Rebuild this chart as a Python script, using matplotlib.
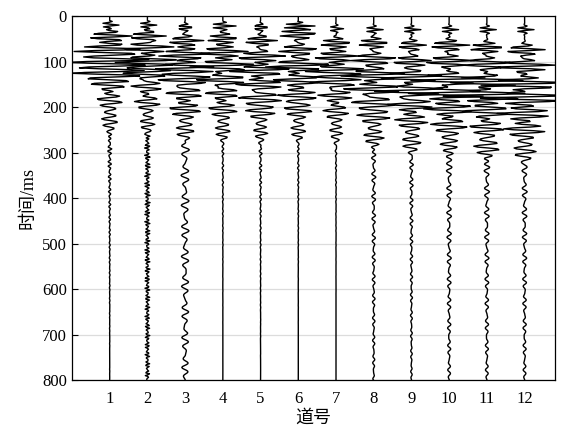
import numpy as np
import matplotlib.pyplot as plt

plt.rcParams['font.family'] = ['Liberation Serif', 'Noto Sans CJK SC']

# trace numbers
traces = np.arange(1, 13)

# wave packets per trace: arrival time (ms), amplitude (trace units)
ev_time = [
    [20, 45, 75, 100, 125, 150, 185, 230],
    [20, 45, 70, 100, 125, 155, 190, 235],
    [25, 55, 85, 115, 140, 170, 205, 250],
    [22, 50, 80, 110, 140, 170, 205, 250],
    [25, 55, 90, 120, 150, 180, 210, 255],
    [22, 40, 75, 110, 140, 175, 205, 250],
    [28, 60, 90, 120, 145, 175, 210, 255],
    [30, 60, 95, 130, 160, 190, 220, 265],
    [30, 65, 100, 135, 165, 195, 230, 275],
    [30, 65, 100, 140, 170, 205, 240, 285],
    [30, 70, 105, 145, 175, 210, 245, 290],
    [30, 75, 110, 150, 180, 215, 250, 295],
]
ev_amp = [
    [0.25, 0.60, 0.95, 1.15, 0.95, 0.50, 0.35, 0.22],
    [0.25, 0.50, 0.75, 0.85, 0.65, 0.45, 0.35, 0.20],
    [0.25, 0.50, 0.75, 0.85, 0.75, 0.55, 0.45, 0.25],
    [0.35, 0.45, 0.70, 0.90, 0.75, 0.50, 0.40, 0.20],
    [0.25, 0.45, 0.70, 0.85, 0.70, 0.60, 0.40, 0.20],
    [0.45, 0.55, 0.55, 0.90, 0.70, 0.55, 0.40, 0.20],
    [0.20, 0.45, 0.65, 0.80, 0.70, 0.50, 0.35, 0.18],
    [0.25, 0.45, 0.65, 0.90, 0.85, 0.60, 0.45, 0.25],
    [0.25, 0.40, 0.55, 0.90, 1.00, 0.65, 0.45, 0.25],
    [0.25, 0.55, 0.70, 1.05, 1.15, 0.70, 0.50, 0.28],
    [0.25, 0.50, 0.70, 1.10, 1.20, 0.70, 0.50, 0.28],
    [0.25, 0.55, 0.85, 1.20, 1.25, 0.75, 0.55, 0.30],
]
ev_freq = [125, 105, 95, 90, 85, 80, 75, 70]
ev_width = [7, 11, 12, 13, 13, 15, 18, 22]

# weak coda: amplitude, freq (Hz), decay time (ms)
tail_amp = [0.04, 0.05, 0.07, 0.02, 0.03, 0.02, 0.015, 0.04, 0.035, 0.05, 0.05, 0.05]
tail_freq = [90, 130, 45, 80, 80, 80, 80, 60, 65, 55, 55, 55]
tail_decay = [150, 2000, 2000, 120, 150, 120, 100, 600, 500, 700, 700, 700]

t = np.arange(0, 801, 2.0)   # 2 ms sampling

fig = plt.figure(figsize=(5.69, 4.32), dpi=100)
ax = fig.add_axes([0.1265, 0.12, 0.8485, 0.843])

for k in range(len(traces)):
    s = np.zeros_like(t)
    for j in range(len(ev_time[k])):
        tau = t - ev_time[k][j]
        f = ev_freq[j] * (1 + 0.03 * ((k + j) % 3 - 1))
        s += ev_amp[k][j] * np.exp(-(tau / ev_width[j])**2) * np.cos(2*np.pi*f*tau/1000 + 0.7*j)
    # coda
    env = np.clip((t - 240) / 40, 0, 1) * np.exp(-np.clip(t - 280, 0, None) / tail_decay[k])
    s += env * tail_amp[k] * (np.sin(2*np.pi*tail_freq[k]*t/1000)
                              + 0.6*np.sin(2*np.pi*tail_freq[k]*1.37*t/1000 + 1.0))
    s[t < 12] = 0
    ax.plot(traces[k] + s, t, color='black', lw=1.0)

ax.set_xlim(0, 12.8)
ax.set_ylim(800, 0)
ax.set_xticks(traces)
ax.set_yticks(np.arange(0, 801, 100))
ax.yaxis.grid(True, color='#dcdcdc', lw=0.9)
ax.set_axisbelow(True)
ax.tick_params(axis='y', direction='in', length=4, right=False, labelsize=12)
ax.tick_params(axis='x', length=0, labelsize=12, pad=8)
ax.set_xlabel('道号', fontsize=13, labelpad=2)
ax.set_ylabel('时间/ms', fontsize=13, labelpad=4)
for sp in ax.spines.values():
    sp.set_linewidth(0.9)

fig.savefig('out.png', dpi=100)
